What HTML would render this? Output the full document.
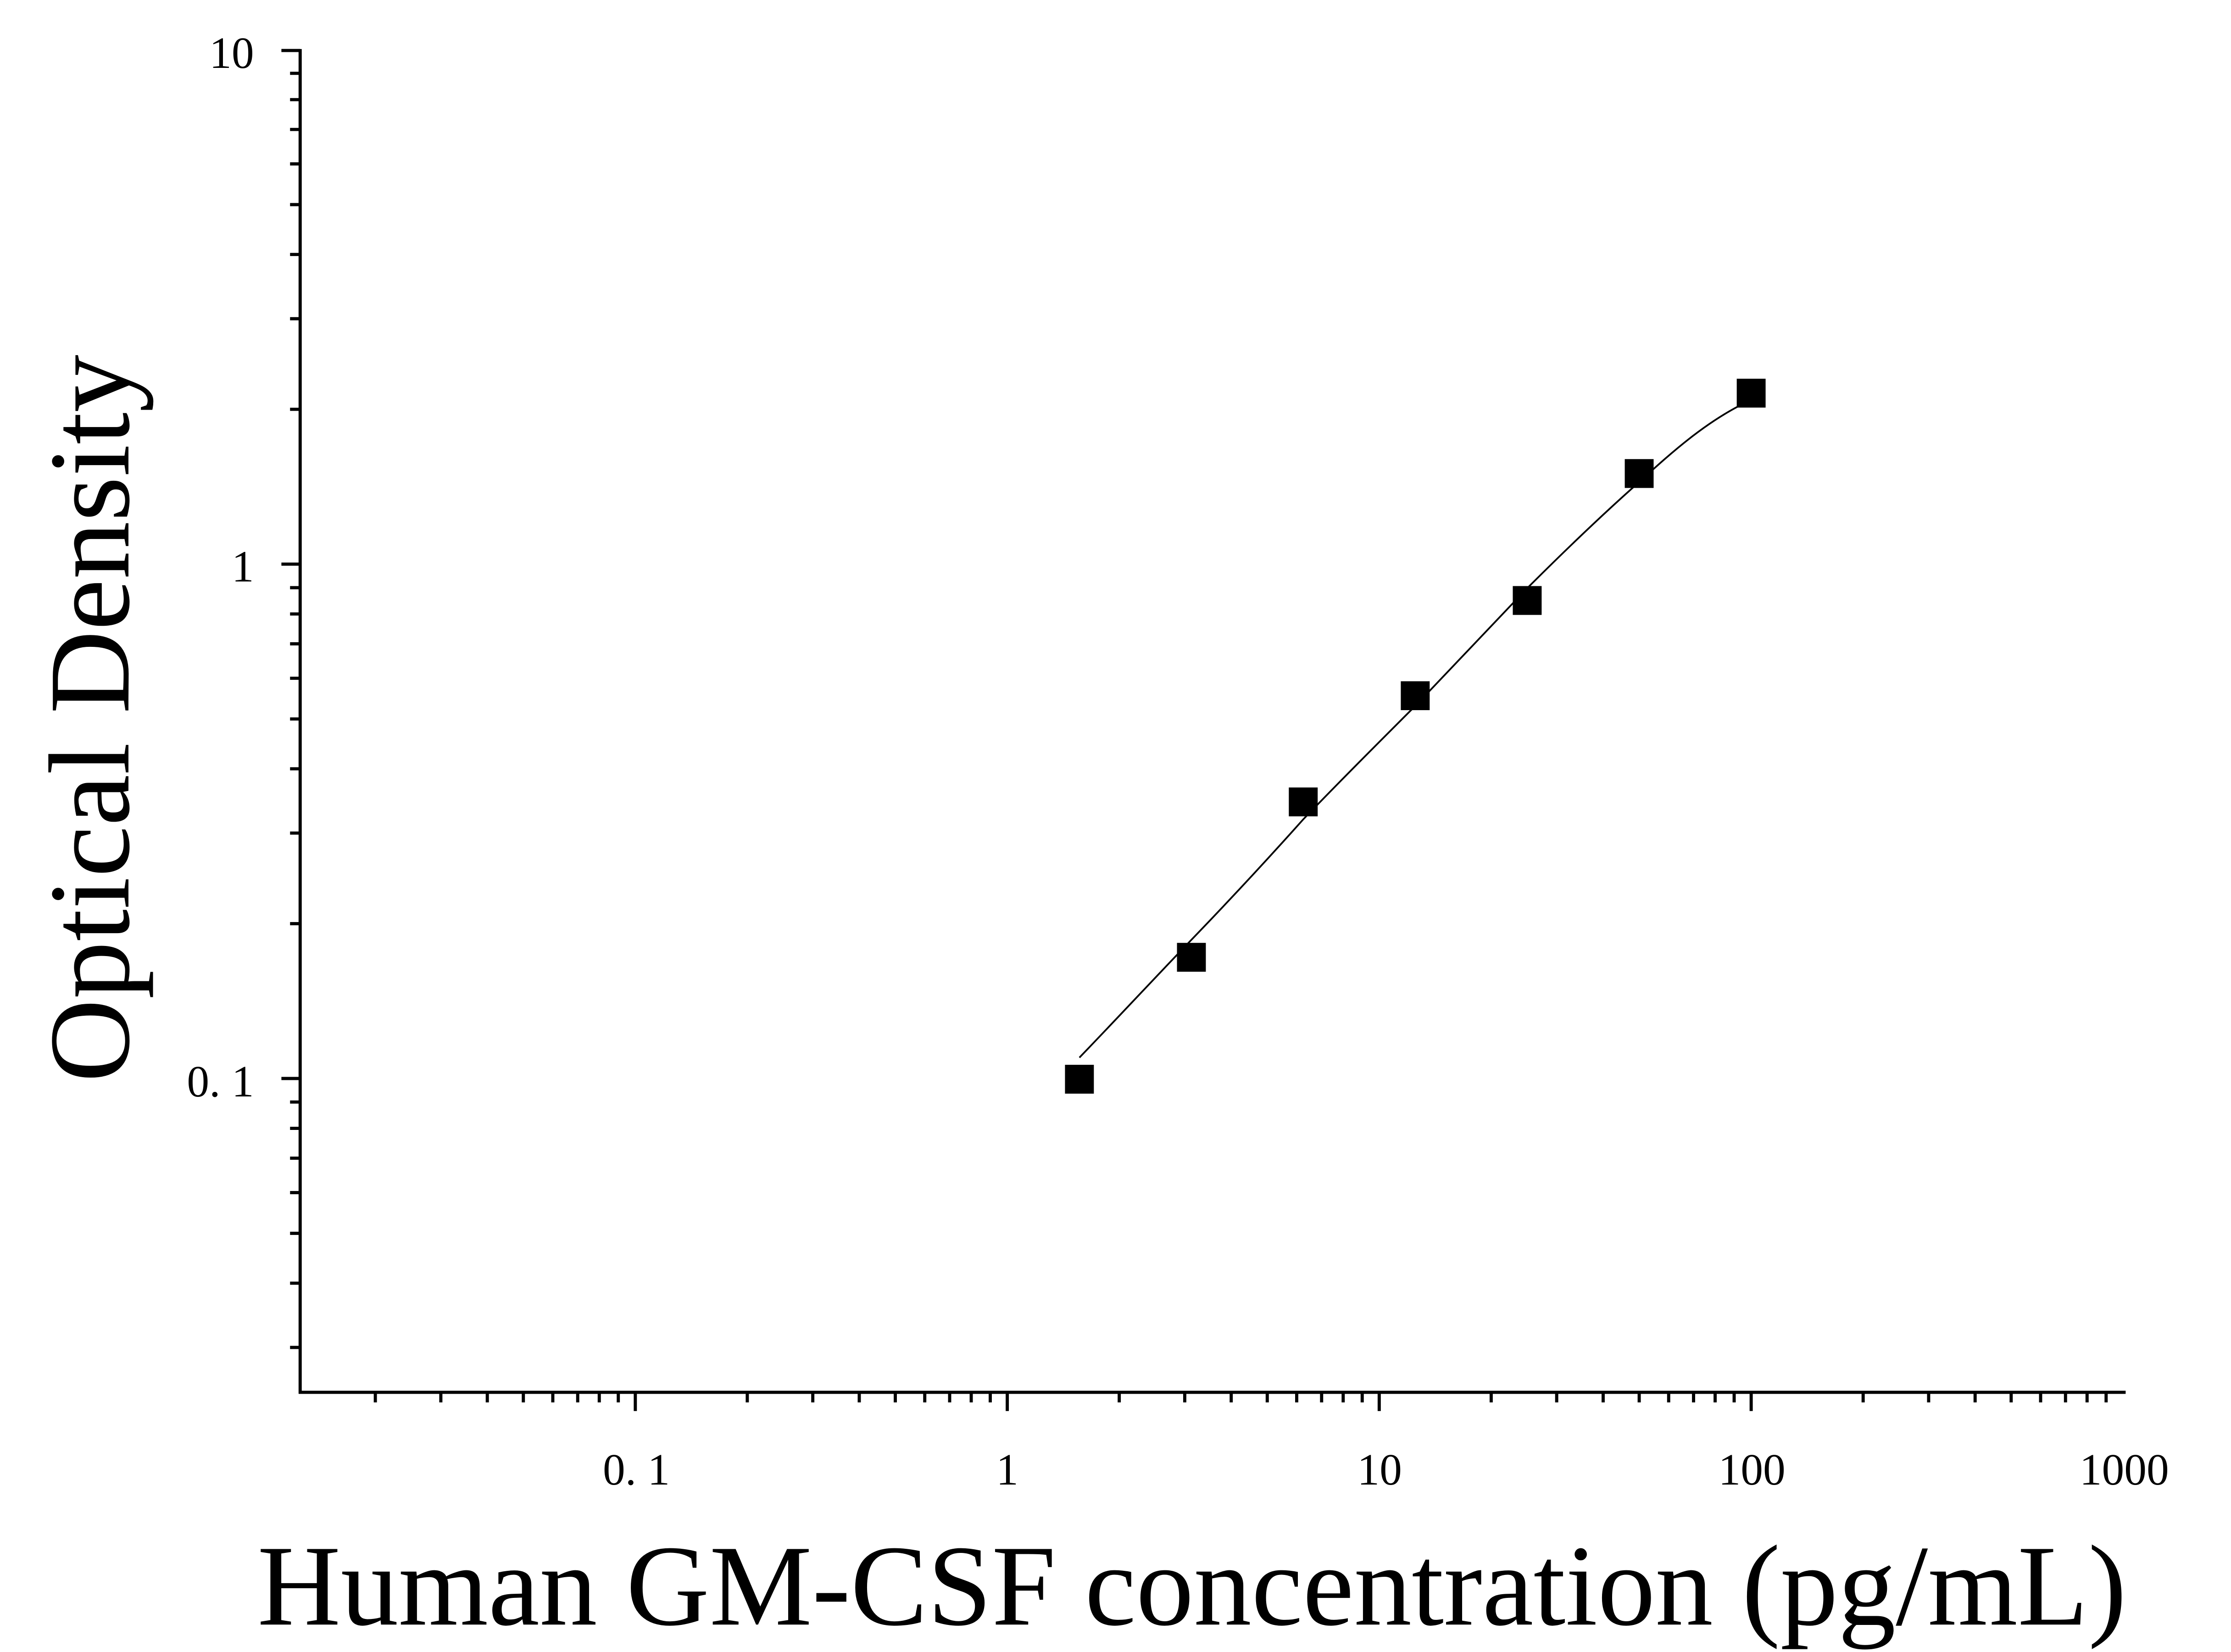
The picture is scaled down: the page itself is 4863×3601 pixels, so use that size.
<!DOCTYPE html>
<html><head><meta charset="utf-8"><style>html,body{margin:0;padding:0;background:#fff}svg{display:block}</style></head>
<body>
<svg id="s" xmlns="http://www.w3.org/2000/svg" width="4863" height="3601" viewBox="0 0 1546 1145" preserveAspectRatio="none" font-family="'Liberation Serif', serif">
<rect width="1546" height="1145" fill="#fff"/>
<g id="ax" stroke="#000" stroke-width="2.2" fill="none">
<line x1="208" y1="34" x2="208" y2="966"/>
<line x1="207" y1="965" x2="1473" y2="965"/>
</g>
<path d="M748,733 C775,705 800,678 825,652 C852,624 878,596 903,568 C930,540 955,515 981,489 C1007,462 1032,435 1058,408 C1085,381 1110,357 1136,334 C1160,312 1185,290 1214,277" stroke="#000" stroke-width="1.2" fill="none"/>
<g fill="#000">
<rect x="738" y="738" width="20" height="20"/>
<rect x="815.6" y="653.5" width="20" height="20"/>
<rect x="893.1" y="545.8" width="20" height="20"/>
<rect x="970.7" y="472.2" width="20" height="20"/>
<rect x="1048.3" y="406.2" width="20" height="20"/>
<rect x="1125.9" y="318.2" width="20" height="20"/>
<rect x="1203.5" y="262.5" width="20" height="20"/>
</g>
<g font-size="31" fill="#000" text-anchor="end">
<text x="176" y="47">10</text>
<text x="176" y="403">1</text>
<text x="176" y="760">0. 1</text>
</g>
<g font-size="31" fill="#000" text-anchor="middle">
<text x="441" y="1029">0. 1</text>
<text x="698" y="1029">1</text>
<text x="956" y="1029">10</text>
<text x="1214" y="1029">100</text>
<text x="1472" y="1029">1000</text>
</g>
<text x="826" y="1126" font-size="80" text-anchor="middle" fill="#000">Human GM-CSF concentration (pg/mL)</text>
<text transform="translate(89,498) rotate(-90)" font-size="80" text-anchor="middle" fill="#000">Optical Density</text>
</svg>
<script>
var ax=document.getElementById('ax'),NS='http://www.w3.org/2000/svg';
function L(a,b,c,d){var l=document.createElementNS(NS,'line');l.setAttribute('x1',a);l.setAttribute('y1',b);l.setAttribute('x2',c);l.setAttribute('y2',d);ax.appendChild(l);}
for(var e=-2;e<=2;e++)for(var m=1;m<=9;m++){var lg=e+Math.log10(m);var x=698+lg*257.75;if(x<209||x>1473)continue;L(x,965,x,m==1?978:972);}
for(var e=-2;e<=0;e++)for(var m=1;m<=9;m++){var lg=e+Math.log10(m);var y=391-lg*356.5;if(y>964||y<33)continue;L(208,y,m==1?195:201,y);}
L(208,35,195,35);
</script>
</body></html>
